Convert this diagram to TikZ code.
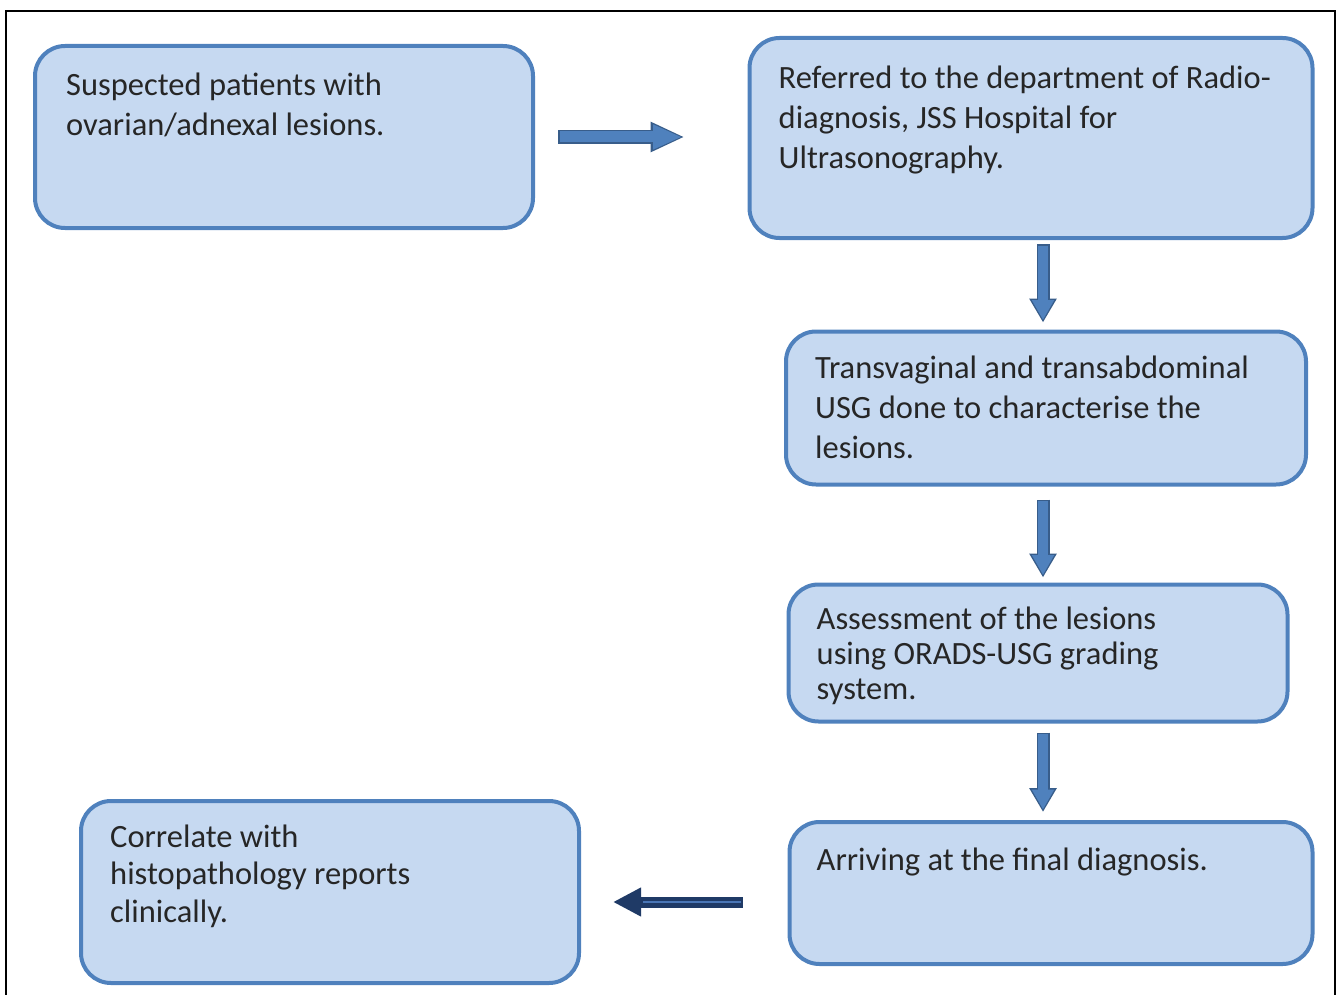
\documentclass[tikz,border=0pt]{standalone}
\usepackage{fontspec}
\setmainfont{Carlito}
\usepackage{xcolor}
\usetikzlibrary{arrows.meta,positioning,calc}

\definecolor{boxline}{HTML}{4F81BD}
\definecolor{boxfill}{HTML}{C6D9F1}
\definecolor{arrowfill}{HTML}{4F81BD}
\definecolor{arrowedge}{HTML}{385D8A}
\definecolor{backedge}{HTML}{1F3A66}
\definecolor{backcore}{HTML}{4A76B6}

\begin{document}
\begin{tikzpicture}[
   x=1pt,y=-1pt,
   every node/.style={font=\fontsize{32.5}{40}\selectfont},
   box/.style={draw=boxline,line width=4pt,fill=boxfill,rectangle,
               rounded corners=30pt,inner sep=0pt},
   txt/.style={anchor=base west,align=left,inner sep=0pt,text=black!85},
   hout/.style={draw=arrowedge,line width=14pt,-{Triangle[length=34pt,width=28pt]}},
   hin/.style={draw=arrowfill,line width=11pt,-{Triangle[length=29pt,width=23pt]}},
   vout/.style={draw=arrowedge,line width=13pt,-{Triangle[length=24pt,width=26pt]}},
   vin/.style={draw=arrowfill,line width=10pt,-{Triangle[length=20pt,width=21pt]}}
]
\useasboundingbox (0,0) rectangle (1338,995);
\draw[line width=1.3pt] (6,995) -- (6,11) -- (1335,11) -- (1335,995);

% boxes
\node[box,minimum width=498,minimum height=182] (b1) at (284,137) {};
\node[box,minimum width=563,minimum height=200] (b2) at (1031,138) {};
\node[box,minimum width=520,minimum height=153] (b3) at (1046,408) {};
\node[box,minimum width=499,minimum height=137] (b4) at (1038,653) {};
\node[box,minimum width=523,minimum height=142] (b5) at (1051,893) {};
\node[box,minimum width=498,minimum height=182] (b6) at (330,892) {};

% texts (anchored on the baseline of the last line)
\node[txt] (t1) at ($(b1.north west)+(33,92)$)
   {Suspected patients with\\ovarian/adnexal lesions.};
\node[txt] (t2) at ($(b2.north west)+(31,133)$)
   {Referred to the department of Radio-\\diagnosis, JSS Hospital for\\Ultrasonography.};
\node[txt] (t3) at ($(b3.north west)+(31,129)$)
   {Transvaginal and transabdominal\\USG done to characterise the\\lesions.};
\node[txt,font=\fontsize{32.5}{35}\selectfont] (t4) at ($(b4.north west)+(30,117)$)
   {Assessment of the lesions\\using ORADS-USG grading\\system.};
\node[txt] (t5) at ($(b5.north west)+(29,50)$)
   {Arriving at the final diagnosis.};
\node[txt,font=\fontsize{32.5}{37.5}\selectfont] (t6) at ($(b6.north west)+(31,123)$)
   {Correlate with\\histopathology reports\\clinically.};

% arrows
\coordinate (col) at (1043,0);
\draw[hout,shorten <=23pt,shorten >=63pt] (b1.east) -- (b1.east -| b2.west);
\draw[hin,shorten <=24.5pt,shorten >=65.5pt] (b1.east) -- (b1.east -| b2.west);

\draw[vout,shorten <=4pt,shorten >=7pt] (b2.south -| col) -- (b3.north -| col);
\draw[vin,shorten <=5.5pt,shorten >=9.5pt] (b2.south -| col) -- (b3.north -| col);

\draw[vout,shorten <=13pt,shorten >=5pt] (b3.south -| col) -- (b4.north -| col);
\draw[vin,shorten <=14.5pt,shorten >=7.5pt] (b3.south -| col) -- (b4.north -| col);

\draw[vout,shorten <=9pt,shorten >=8pt] (b4.south -| col) -- (b5.north -| col);
\draw[vin,shorten <=10.5pt,shorten >=10.5pt] (b4.south -| col) -- (b5.north -| col);

% back to histopathology
\coordinate (row) at (0,902);
\draw[backedge,line width=11pt,-{Triangle[length=28pt,width=27pt]},
      shorten <=45pt,shorten >=32pt] (b5.west |- row) -- (b6.east |- row);
\draw[backcore,line width=2pt,shorten <=47pt,shorten >=62pt] (b5.west |- row) -- (b6.east |- row);
\end{tikzpicture}
\end{document}
